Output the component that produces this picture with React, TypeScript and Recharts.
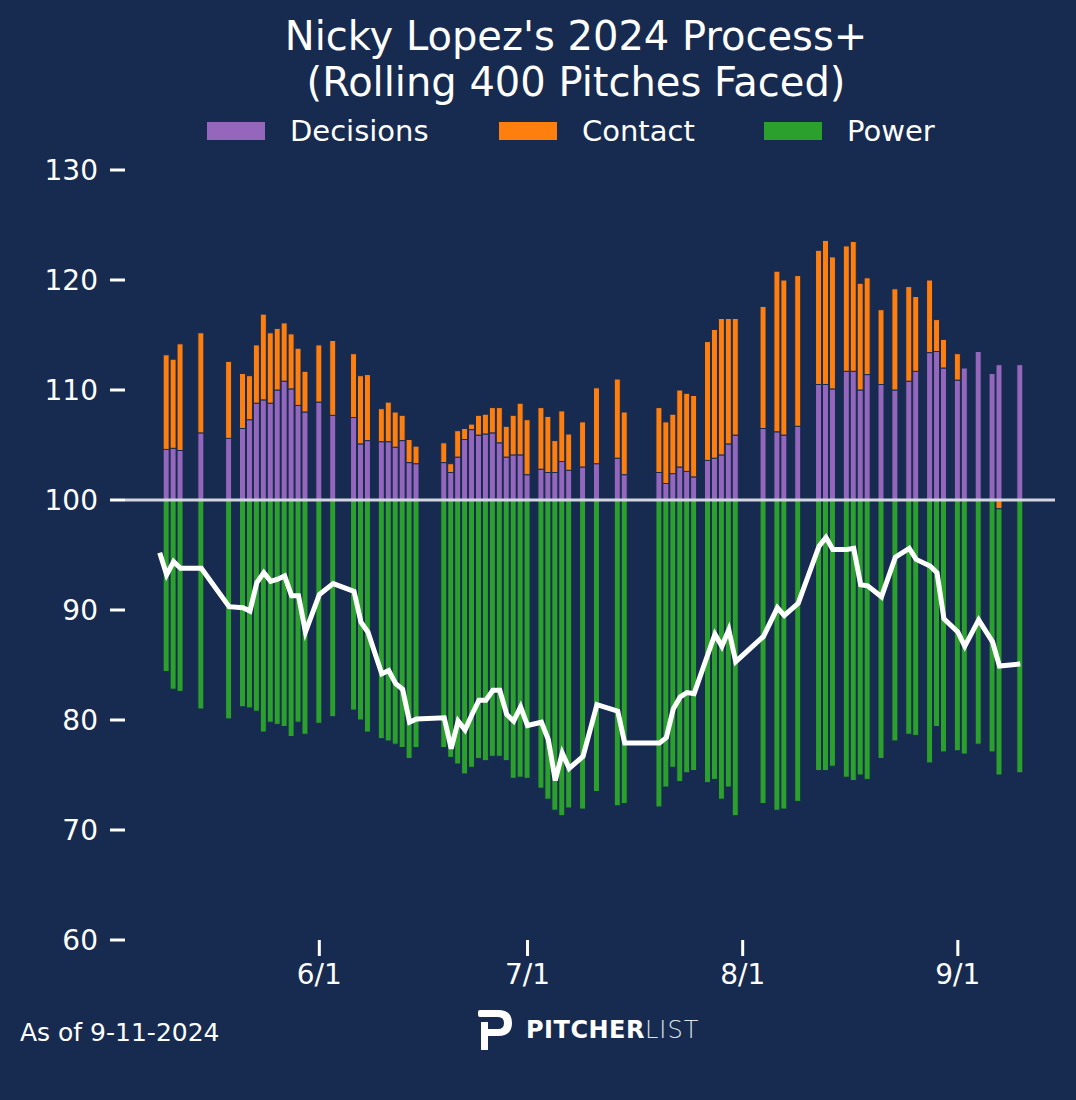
import { Bar, ComposedChart, Line, ReferenceLine, XAxis, YAxis } from 'recharts';

// day offsets from 6/1
const days = [-23, -22, -21, -20, -17, -13, -11, -10, -9, -8, -7, -6, -5, -4, -3, -2, 0, 2, 5, 6, 7, 9, 10, 11, 12, 13, 14,
  18, 19, 20, 21, 22, 23, 24, 25, 26, 27, 28, 29, 30, 32, 33, 34, 35, 36, 38, 40, 43, 44,
  49, 50, 51, 52, 53, 54, 56, 57, 58, 59, 60, 64, 66, 67, 69, 72, 73, 74, 76, 77, 78, 79,
  81, 83, 85, 86, 88, 89, 90, 92, 93, 95, 97, 98, 101];

const decisions = [null, 104.6, 104.7, 104.5, 106.1, 105.6, 106.5, 107.3, 108.8, 109.1, 108.8, 110.0, 110.8, 110.1, 108.6, 108.0, 108.9, 107.7, 107.5, 105.1, 105.4, 105.3, 105.3, 104.8, 105.4, 103.4, 103.3,
  103.4, 102.5, 103.9, 105.5, 106.4, 105.9, 106.0, 106.1, 105.2, 103.9, 104.1, 104.1, 102.3, 102.8, 102.5, 102.5, 103.5, 102.7, 103.0, 103.3, 103.8, 102.3,
  102.5, 101.5, 102.4, 103.0, 102.6, 102.1, 103.6, 103.8, 104.1, 105.1, 105.9, 106.5, 106.2, 105.9, 106.7, 110.5, 110.5, 110.1, 111.7, 111.7, 110.0, 111.4,
  110.5, 110.0, 110.8, 111.7, 113.4, 113.5, 112.0, 110.9, 112.0, 113.5, 111.5, 112.3, 112.3];

const contact = [null, 8.6, 8.1, 9.7, 9.1, 7.0, 5.0, 4.0, 5.3, 7.8, 6.4, 5.6, 5.3, 5.0, 5.2, 3.7, 5.2, 6.8, 5.8, 6.2, 6.0, 3.0, 3.6, 3.2, 2.3, 2.1, 1.6,
  1.8, 0.8, 2.4, 1.0, 0.5, 1.8, 1.8, 2.3, 3.2, 2.8, 3.6, 4.7, 5.0, 5.6, 5.1, 2.9, 4.6, 3.3, 4.1, 6.9, 7.2, 5.7,
  5.9, 5.6, 5.4, 7.0, 7.1, 7.4, 10.8, 11.7, 12.4, 11.4, 10.6, 11.1, 14.6, 14.1, 13.7, 12.2, 13.1, 12.0, 11.4, 11.8, 9.7, 8.8,
  6.8, 9.2, 8.6, 6.8, 6.6, 2.9, 2.6, 2.4, 0, 0, 0, -0.8, 0];

const power = [null, 84.4, 82.8, 82.6, 81.0, 80.1, 81.2, 81.1, 80.8, 78.9, 79.8, 79.6, 79.4, 78.5, 79.8, 78.7, 79.7, 80.3, 80.9, 80.0, 78.9, 78.3, 78.1, 77.8, 77.5, 76.5, 77.5,
  77.5, 76.6, 76.0, 75.1, 75.7, 76.5, 76.3, 76.7, 76.7, 76.3, 74.7, 74.8, 74.7, 73.8, 72.8, 71.8, 71.3, 72.0, 71.9, 73.5, 72.2, 72.4,
  72.1, 73.9, 75.7, 74.4, 75.2, 75.4, 74.3, 74.6, 72.8, 73.9, 71.3, 72.4, 71.8, 71.9, 72.6, 75.4, 75.4, 75.8, 74.8, 74.5, 75.0, 74.6,
  76.5, 78.1, 78.7, 78.6, 76.1, 79.4, 77.1, 77.2, 76.9, 77.8, 77.1, 75.0, 75.2];

const processPlus = [95.2, 93.2, 94.4, 93.8, 93.8, 90.3, 90.2, 89.9, 92.5, 93.4, 92.6, 92.8, 93.1, 91.3, 91.3, 88.0, 91.4, 92.4, 91.7, 88.9, 88.0, 84.2, 84.5, 83.3, 82.8, 79.8, 80.1,
  80.2, 77.4, 79.9, 79.1, 80.5, 81.8, 81.8, 82.7, 82.7, 80.5, 79.9, 81.2, 79.5, 79.8, 78.2, 74.5, 77.0, 75.6, 76.7, 81.4, 80.8, 77.9,
  77.9, 78.4, 81.0, 82.1, 82.5, 82.4, 86.0, 87.8, 86.7, 88.2, 85.3, 87.6, 90.2, 89.5, 90.6, 95.8, 96.6, 95.5, 95.5, 95.6, 92.3, 92.2,
  91.2, 94.8, 95.6, 94.6, 94.0, 93.4, 89.2, 88.0, 86.7, 89.1, 87.1, 84.9, 85.1];

const xTicks = [0, 30, 61, 92];
const xLabels = ['6/1', '7/1', '8/1', '9/1'];
const yTicks = [-40, -30, -20, -10, 0, 10, 20, 30];

const BG = '#172b50';
const FONT = 'DejaVu Sans';

// values stacked relative to 100 (sign offset puts negative contact under the line)
const data = days.map((day, i) => {
  const d = decisions[i];
  const c = contact[i];
  const p = power[i];
  return {
    day,
    decisions: d == null ? null : d - 100,
    contact: c == null ? null : c,
    power: p == null ? null : p - 100 - Math.min(c ?? 0, 0),
    process: processPlus[i] - 100,
  };
});

const legend = [
  { name: 'Decisions', color: '#9467bd', x: 207 },
  { name: 'Contact', color: '#ff7f0e', x: 499 },
  { name: 'Power', color: '#2ca02c', x: 764 },
];

export default function App() {
  return (
    <div style={{ position: 'absolute', left: 0, top: 0, width: 1076, height: 1100, background: BG, fontFamily: FONT, color: '#fff' }}>
      <div style={{ position: 'absolute', top: 13, width: 1152, textAlign: 'center', fontSize: 40, lineHeight: '46px' }}>
        Nicky Lopez's 2024 Process+
        <br />
        (Rolling 400 Pitches Faced)
      </div>
      {legend.map((l) => (
        <div key={l.name} style={{ position: 'absolute', top: 114, left: l.x, display: 'flex', alignItems: 'center', fontSize: 29 }}>
          <span style={{ display: 'inline-block', width: 58, height: 18, background: l.color, marginRight: 25 }} />
          {l.name}
        </div>
      ))}
      <ComposedChart
        width={1076}
        height={1100}
        data={data}
        stackOffset="sign"
        barSize={6}
        margin={{ top: 170, right: 21, bottom: 0, left: 0 }}
      >
        <XAxis
          dataKey="day"
          type="number"
          domain={[-28, 106]}
          ticks={xTicks}
          tickFormatter={(v) => xLabels[xTicks.indexOf(v)]}
          axisLine={false}
          tickSize={16}
          tickMargin={8}
          tickLine={{ stroke: '#fff', strokeWidth: 3 }}
          tick={{ fill: '#fff', fontSize: 28, fontFamily: FONT }}
          height={160}
        />
        <YAxis
          domain={[-40, 30]}
          ticks={yTicks}
          tickFormatter={(v) => String(v + 100)}
          axisLine={false}
          tickSize={15}
          tickMargin={12}
          tickLine={{ stroke: '#fff', strokeWidth: 3 }}
          tick={{ fill: '#fff', fontSize: 28, fontFamily: FONT }}
          width={125}
          allowDataOverflow
        />
        <Bar dataKey="decisions" stackId="a" fill="#9467bd" stroke={BG} strokeWidth={1} isAnimationActive={false} />
        <Bar dataKey="contact" stackId="a" fill="#ff7f0e" stroke={BG} strokeWidth={1} isAnimationActive={false} />
        <Bar dataKey="power" stackId="a" fill="#2ca02c" stroke={BG} strokeWidth={1} isAnimationActive={false} />
        <ReferenceLine y={0} stroke="#d3d6de" strokeWidth={3} />
        <Line dataKey="process" stroke="#fff" strokeWidth={5} dot={false} type="linear" connectNulls isAnimationActive={false} />
      </ComposedChart>
      <div style={{ position: 'absolute', left: 20, top: 1018, fontSize: 25 }}>As of 9-11-2024</div>
      <div style={{ position: 'absolute', left: 476, top: 1008, display: 'flex', alignItems: 'center' }}>
        <svg width={38} height={44} viewBox="0 0 38 44">
          <path d="M2 4 Q2 2 4 2 H22 Q36 2 36 15 Q36 28 22 28 H12 V42 H5 V14 H12 V21 H22 Q28 21 28 15 Q28 9 22 9 H4 Q2 9 2 7 Z" fill="#fff" />
        </svg>
        <span style={{ marginLeft: 12, fontSize: 24, fontWeight: 'bold', letterSpacing: 0.5 }}>PITCHER</span>
        <span style={{ fontSize: 24, fontWeight: 300, letterSpacing: 1, color: '#dfe3ea' }}>LIST</span>
      </div>
    </div>
  );
}
